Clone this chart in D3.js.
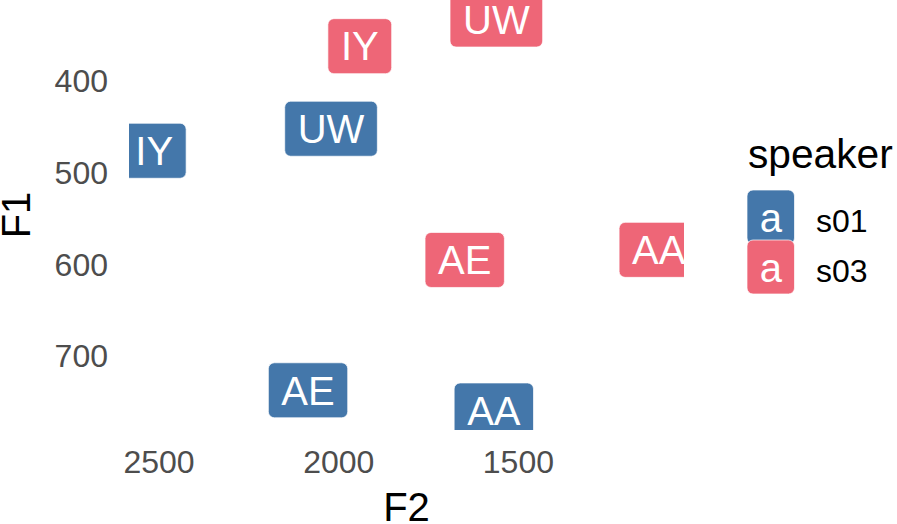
<!DOCTYPE html>
<html><head><meta charset="utf-8">
<script src="https://cdn.jsdelivr.net/npm/d3@7"></script>
<style>
body{margin:0;background:#fff;}
text{font-family:"Liberation Sans",Arial,sans-serif;}
</style></head>
<body><svg id="c" width="897" height="524"></svg>
<script>
const vowels   = ["IY","UW","AE","AA","IY","UW","AE","AA"];
const speakers = ["s01","s01","s01","s01","s03","s03","s03","s03"];
const F2vals   = [2512, 2020, 2084, 1567, 1940, 1560, 1648, 1108];
const F1vals   = [477, 453, 738, 760, 363, 334, 596, 585];
const speakerLevels = ["s01","s03"];
const speakerColors = ["#4477AA","#EE6677"];
const xTicks = [2500, 2000, 1500];
const yTicks = [400, 500, 600, 700];

const data = vowels.map((v,i)=>({vowel:v, speaker:speakers[i], F2:F2vals[i], F1:F1vals[i]}));
const svg = d3.select("#c");
const P = {l:129, r:684, t:0, b:430};

function expand(ext){const r=ext[1]-ext[0];return [ext[0]-0.05*r, ext[1]+0.05*r];}
const xd = expand(d3.extent(F2vals));
const yd = expand(d3.extent(F1vals));
const x = d3.scaleLinear().domain([xd[1], xd[0]]).range([P.l, P.r]);
const y = d3.scaleLinear().domain([yd[0], yd[1]]).range([P.t, P.b]);
const color = d3.scaleOrdinal().domain(speakerLevels).range(speakerColors);

// axes
const gx = svg.append("g").attr("transform",`translate(0,${P.b})`)
  .call(d3.axisBottom(x).tickValues(xTicks).tickSize(0).tickFormat(d3.format("d")));
gx.select(".domain").remove();
gx.selectAll("text").attr("y",43).attr("dy",0).attr("fill","#4D4D4D")
  .style("font-size","32px").style("font-family","'Liberation Sans',Arial,sans-serif");
const gy = svg.append("g").attr("transform",`translate(${P.l},0)`)
  .call(d3.axisLeft(y).tickValues(yTicks).tickSize(0).tickFormat(d3.format("d")));
gy.select(".domain").remove();
gy.selectAll("text").attr("x",-21).attr("dy","0.36em").attr("fill","#4D4D4D")
  .style("font-size","32px").style("font-family","'Liberation Sans',Arial,sans-serif");

// titles
svg.append("text").attr("x",(P.l+P.r)/2).attr("y",521).attr("text-anchor","middle")
  .style("font-size","40px").attr("fill","#000").text("F2");
svg.append("text").attr("transform",`translate(30,${(P.t+P.b)/2}) rotate(-90)`)
  .attr("text-anchor","middle").style("font-size","40px").attr("fill","#000").text("F1");

// clip
svg.append("clipPath").attr("id","clip").append("rect")
  .attr("x",P.l).attr("y",P.t).attr("width",P.r-P.l).attr("height",P.b-P.t);
const plot = svg.append("g").attr("clip-path","url(#clip)");
const pad = 13, h = 55, rad = 6;
data.forEach(d=>{
  const g = plot.append("g").attr("transform",`translate(${x(d.F2)},${y(d.F1)})`);
  const t = g.append("text").attr("text-anchor","middle").attr("y",14.3)
    .style("font-size","40px").attr("fill","#fff").text(d.vowel);
  const w = t.node().getComputedTextLength() + 2*pad;
  g.insert("rect","text").attr("x",-w/2).attr("y",-h/2).attr("width",w).attr("height",h)
    .attr("rx",rad).attr("fill",color(d.speaker)).attr("stroke","#fff").attr("stroke-width",0.7);
});

// legend
svg.append("text").attr("x",748).attr("y",168).style("font-size","40.7px").attr("fill","#000").text("speaker");
speakerLevels.forEach((s,i)=>{
  const ky = 190 + i*50;
  svg.append("rect").attr("x",747).attr("y",ky).attr("width",47.5).attr("height",54)
    .attr("rx",rad).attr("fill",color(s)).attr("stroke","#fff").attr("stroke-width",0.7);
  svg.append("text").attr("x",747+23.75).attr("y",ky+42).attr("text-anchor","middle")
    .style("font-size","40px").attr("fill","#fff").text("a");
  svg.append("text").attr("x",816).attr("y",ky+42).style("font-size","32px").attr("fill","#000").text(s);
});
</script></body></html>
